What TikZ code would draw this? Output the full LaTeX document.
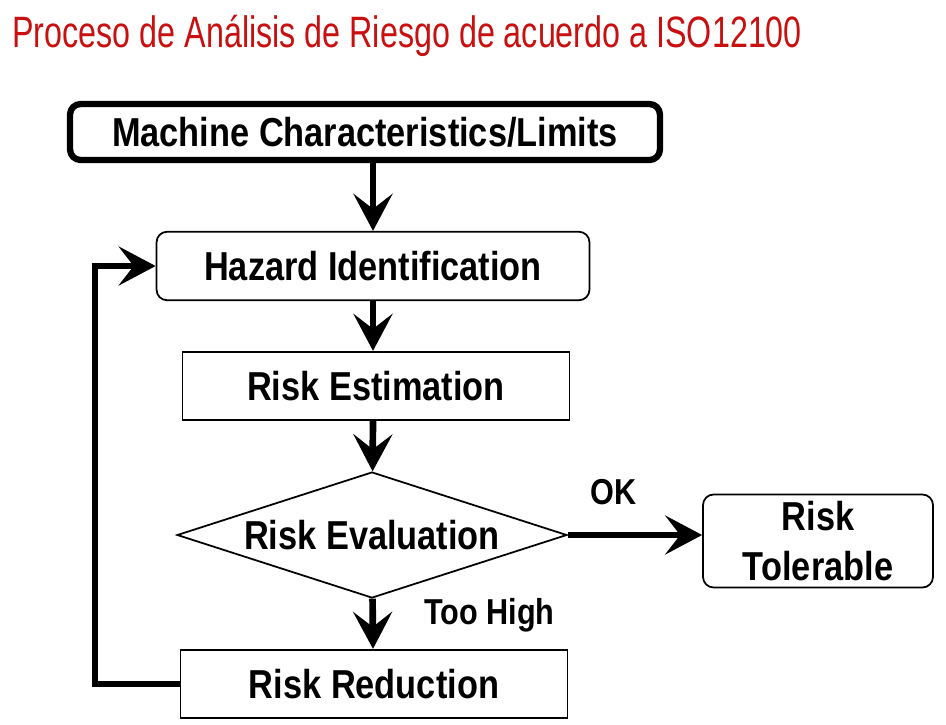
\documentclass[tikz,border=0pt]{standalone}
\usepackage{fontspec}
\setmainfont{Liberation Sans}
\newfontfamily\narrowfont[FakeStretch=0.85]{Liberation Sans}
\newfontfamily\titlefont[FakeStretch=0.735]{Liberation Sans}
\usetikzlibrary{arrows.meta,positioning,shapes.geometric}
\definecolor{titlered}{RGB}{200,16,16}
\definecolor{ink}{RGB}{0,0,0}
\tikzset{
  x=0.02cm,y=-0.02cm,
  >={Stealth[length=7.4mm,width=7.8mm,inset=3mm]},
  stepbox/.style={draw=ink,line width=1pt,minimum width=#1,minimum height=1.37cm,
    inner sep=0pt,align=center,font=\narrowfont\fontsize{23}{26}\selectfont\bfseries},
  stepbox/.default=7.74cm,
  roundbox/.style={stepbox=#1,rounded corners=6pt},
  roundbox/.default=8.66cm,
  decision/.style={diamond,draw=ink,line width=1pt,aspect=3.1,inner sep=0pt,
    minimum width=7.8cm,minimum height=2.52cm,
    font=\narrowfont\fontsize{23}{26}\selectfont\bfseries},
  flow/.style={->,line width=3.8pt,draw=ink},
  tag/.style={font=\narrowfont\fontsize{20.5}{23}\selectfont\bfseries},
}
\begin{document}
\begin{tikzpicture}
  \useasboundingbox (0,0) rectangle (946,724);
  \node[anchor=base west,text=titlered,inner sep=0pt,
    font=\titlefont\fontsize{25}{28}\selectfont] (title) at (12,47)
    {Proceso de Análisis de Riesgo de acuerdo a ISO12100};
  % main chain
  \node[roundbox=11.8cm,line width=3.6pt,minimum height=1.12cm] (mach) at (365,132) {Machine Characteristics/Limits};
  \node[roundbox] (hazard) at (373,266) {Hazard Identification};
  \node[stepbox] (estim) at (376,386) {Risk Estimation};
  \node[decision] (eval) at (372,535) {Risk Evaluation};
  \node[roundbox=4.6cm,minimum height=1.86cm,font=\narrowfont\fontsize{23}{28}\selectfont\bfseries] (toler) at (818,541) {Risk\\Tolerable};
  \node[stepbox] (reduc) at (374,684) {Risk Reduction};
  \draw[flow] (mach.south -| hazard) -- (hazard);
  \draw[flow] (hazard) -- (hazard |- estim.north);
  \draw[flow] (hazard |- estim.south) -- (eval);
  \draw[flow] (eval.east) -- (toler.west |- eval.east) node[tag,midway,above=12pt,xshift=-12pt] (ok) {OK};
  \draw[flow] (eval) -- (hazard |- reduc.north) node[tag,midway,right=24pt,yshift=5pt] (high) {Too High};
  % loop back
  \coordinate (back) at (95,0);
  \draw[flow] (reduc.west) -- (back |- reduc.west) -- (back |- hazard.west) -- (hazard.west);
\end{tikzpicture}
\end{document}
